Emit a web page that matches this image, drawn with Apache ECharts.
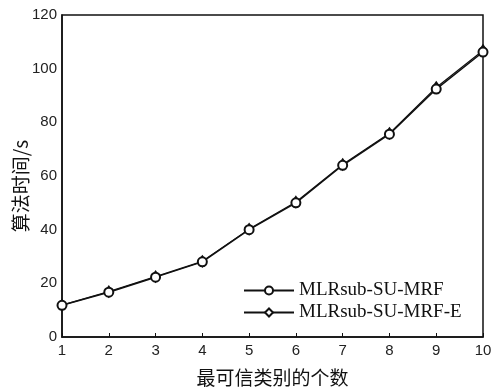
<!DOCTYPE html>
<html>
<head>
<meta charset="utf-8">
<script src="https://cdn.jsdelivr.net/npm/echarts@6/dist/echarts.min.js"></script>
<style>html,body{margin:0;padding:0;background:#fff}#c{width:495px;height:392px}</style>
</head>
<body>
<div id="c"></div>
<script>
var categories = [1, 2, 3, 4, 5, 6, 7, 8, 9, 10];
var seriesNames = ['MLRsub-SU-MRF', 'MLRsub-SU-MRF-E'];
var mrf = [11.8, 16.7, 22.3, 28.0, 40.0, 50.0, 64.0, 75.6, 92.4, 106.2];
var mrfE = [11.9, 16.9, 22.5, 28.2, 40.2, 50.3, 64.3, 75.9, 93.0, 106.8];
var yTicks = [0, 20, 40, 60, 80, 100, 120];
var xName = '最可信类别的个数';
var yName = '算法时间/s';

function pairs(vals) { return categories.map(function (c, i) { return [c, vals[i]]; }); }

var chart = echarts.init(document.getElementById('c'), null, { renderer: 'canvas' });
chart.setOption({
  animation: false,
  backgroundColor: '#fff',
  grid: { left: 62, right: 12, top: 15, bottom: 55, containLabel: false, outerBoundsMode: 'none', show: true, borderColor: '#111', borderWidth: 1.5, backgroundColor: 'transparent' },
  legend: {
    left: 238, top: 276, orient: 'vertical', itemGap: 3,
    itemWidth: 50, itemHeight: 10,
    textStyle: { fontFamily: 'Liberation Serif', fontSize: 19, color: '#111' },
    data: seriesNames
  },
  xAxis: {
    type: 'value', min: 1, max: 10, interval: 1,
    name: xName, nameLocation: 'middle', nameGap: 31,
    nameTextStyle: { fontFamily: 'Noto Sans CJK SC', fontSize: 19, color: '#111' },
    axisLine: { lineStyle: { color: '#111', width: 1.5 } },
    axisTick: { inside: true, length: 4, lineStyle: { color: '#111' } },
    axisLabel: { fontFamily: 'Liberation Sans', fontSize: 15, color: '#222', margin: 6 },
    splitLine: { show: false }
  },
  yAxis: {
    type: 'value', min: yTicks[0], max: yTicks[yTicks.length - 1], interval: 20,
    name: yName, nameLocation: 'middle', nameGap: 32, nameMoveOverlap: false,
    nameTextStyle: { fontFamily: 'Noto Sans CJK SC', fontSize: 19, color: '#111', padding: [0, 20, 0, 0] },
    axisLine: { lineStyle: { color: '#111', width: 1.5 } },
    axisTick: { show: false },
    axisLabel: { fontFamily: 'Liberation Sans', fontSize: 15, color: '#222', margin: 5 },
    splitLine: { show: false }
  },
  series: [
    {
      name: seriesNames[0], type: 'line', data: pairs(mrf), z: 3,
      symbol: 'emptyCircle', symbolSize: 9,
      lineStyle: { color: '#111', width: 1.5 },
      itemStyle: { color: '#111', borderColor: '#111', borderWidth: 1.5 }
    },
    {
      name: seriesNames[1], type: 'line', data: pairs(mrfE), z: 2,
      symbol: 'emptyDiamond', symbolSize: [7, 10],
      lineStyle: { color: '#111', width: 1.2 },
      itemStyle: { color: '#111', borderColor: '#111', borderWidth: 1 }
    }
  ]
});
</script>
</body>
</html>
